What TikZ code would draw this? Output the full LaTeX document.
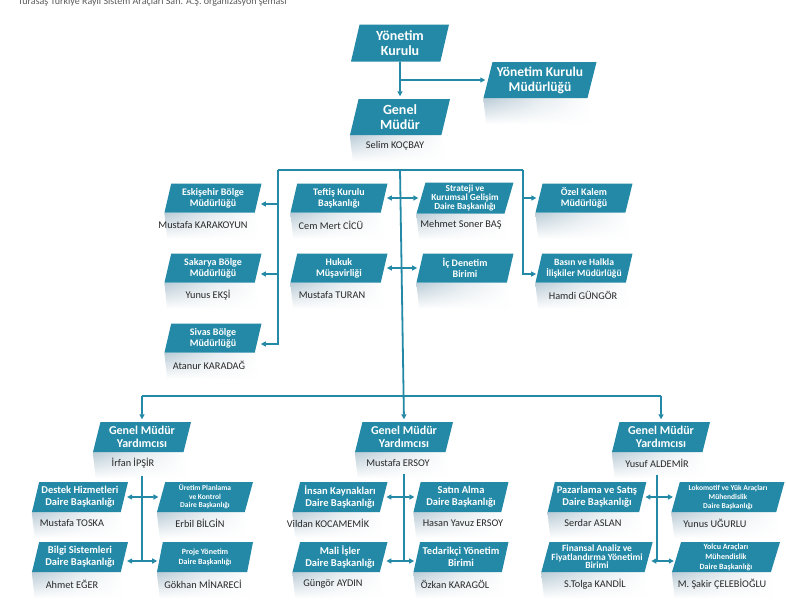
\documentclass[tikz,border=0pt]{standalone}
\usepackage{fontspec}
\setmainfont{Carlito}
\usetikzlibrary{shapes.geometric,arrows.meta,backgrounds,calc,fadings}
\definecolor{tl}{RGB}{35,137,166}
\definecolor{nmc}{RGB}{40,40,40}
\definecolor{shc}{RGB}{178,198,210}
\definecolor{capc}{RGB}{90,90,90}
\tikzfading[name=fadedown, top color=transparent!10, bottom color=transparent!100]
\newcommand\myfs[2]{\fontsize{#1}{#2}\selectfont}
\newcommand\shadowbelow[1]{\shade[left color=shc, right color=white, middle color=shc!40, path fading=fadedown] (#1.bottom left corner) -- (#1.bottom right corner) -- ($(#1.bottom right corner)+(3,26)$) -- ($(#1.bottom left corner)+(3,26)$) -- cycle;}
\begin{document}
\begin{tikzpicture}[x=1pt,y=-1pt,
  bx/.style={trapezium, trapezium left angle=72, trapezium right angle=108, trapezium stretches body,
    fill=tl, text=white, align=center, inner xsep=2pt, inner ysep=0.5pt, minimum height=30, minimum width=96},
  topb/.style={bx, font=\bfseries\myfs{14}{15.5}, minimum height=37},
  midb/.style={bx, font=\bfseries\myfs{10}{11}, minimum width=97, minimum height=29},
  gmyb/.style={bx, font=\bfseries\myfs{12}{13.5}, minimum width=98, minimum height=30},
  subb/.style={bx, font=\bfseries\myfs{10.5}{12}, minimum width=96, minimum height=30},
  nm/.style={font=\myfs{10.3}{11}, text=nmc, inner sep=0.5pt},
  ln/.style={draw=tl, line width=1.8pt},
  arr/.style={ln, -{Triangle[length=5pt,width=5pt]}, shorten >=2.5pt},
  darr/.style={ln, {Triangle[length=5pt,width=5pt]}-{Triangle[length=5pt,width=5pt]}, shorten >=2.5pt, shorten <=2.5pt}
]
\useasboundingbox (0,0) rectangle (786,606);
\clip (0,0) rectangle (786,606);

\node[anchor=base west, font=\myfs{10}{12}, text=capc, inner sep=0] (cap) at (18,4.5) {Turasaş Türkiye Raylı Sistem Araçları San. A.Ş. organizasyon şeması};

% top
\node[topb, minimum width=98] (yk) at (400,43) {Yönetim\\Kurulu};
\node[topb, font=\bfseries\myfs{13.5}{15}, minimum width=113, minimum height=36] (ykm) at (540,80) {Yönetim Kurulu\\Müdürlüğü};
\node[topb, minimum width=100, minimum height=36] (gm) at (400,117) {Genel\\Müdür};
\node[nm] (gmn) at (395,146) {Selim KOÇBAY};

% middle
\node[midb] (esk) at (213,198) {Eskişehir Bölge\\Müdürlüğü};
\node[midb] (tef) at (339,198) {Teftiş Kurulu\\Başkanlığı};
\node[midb, font=\bfseries\myfs{9.3}{9.3}, minimum height=31] (str) at (465,198) {Strateji ve\\Kurumsal Gelişim\\Daire Başkanlığı};
\node[midb] (ozk) at (584,198) {Özel Kalem\\Müdürlüğü};
\node[midb] (sak) at (213,268) {Sakarya Bölge\\Müdürlüğü};
\node[midb] (huk) at (339,268) {Hukuk\\Müşavirliği};
\node[midb] (icd) at (465,268) {İç Denetim\\Birimi};
\node[midb, font=\bfseries\myfs{9.6}{11}] (bas) at (584,268) {Basın ve Halkla\\İlişkiler Müdürlüğü};
\node[midb] (siv) at (213,338) {Sivas Bölge\\Müdürlüğü};

\node[nm] (eskn) at (203,225) {Mustafa KARAKOYUN};
\node[nm] (tefn) at (331,225) {Cem Mert CİCÜ};
\node[nm] (strn) at (461,225) {Mehmet Soner BAŞ};
\node[nm] (sakn) at (208,295) {Yunus EKŞİ};
\node[nm] (hukn) at (332,295) {Mustafa TURAN};
\node[nm] (basn) at (583,295) {Hamdi GÜNGÖR};
\node[nm] (sivn) at (209,365) {Atanur KARADAĞ};

% GMY
\node[gmyb] (gmy1) at (142,437) {Genel Müdür\\Yardımcısı};
\node[gmyb] (gmy2) at (404,437) {Genel Müdür\\Yardımcısı};
\node[gmyb] (gmy3) at (661,437) {Genel Müdür\\Yardımcısı};
\node[nm] (gmy1n) at (133,463) {İrfan İPŞİR};
\node[nm] (gmy2n) at (398,463) {Mustafa ERSOY};
\node[nm] (gmy3n) at (657,463) {Yusuf ALDEMİR};

% sub boxes
\node[subb] (des) at (80,497) {Destek Hizmetleri\\Daire Başkanlığı};
\node[subb, font=\bfseries\myfs{7.5}{8.5}] (ure) at (205,497) {Üretim Planlama\\ve Kontrol\\Daire Başkanlığı};
\node[subb] (bil) at (80,557) {Bilgi Sistemleri\\Daire Başkanlığı};
\node[subb, font=\bfseries\myfs{8}{10}] (pro) at (205,557) {Proje Yönetim\\Daire Başkanlığı};
\node[subb, minimum width=95] (ins) at (340,497) {İnsan Kaynakları\\Daire Başkanlığı};
\node[subb, minimum width=95] (sat) at (461,497) {Satın Alma\\Daire Başkanlığı};
\node[subb, minimum width=95] (mal) at (340,557) {Mali İşler\\Daire Başkanlığı};
\node[subb, minimum width=95] (ted) at (461,557) {Tedarikçi Yönetim\\Birimi};
\node[subb, minimum width=95] (paz) at (597,497) {Pazarlama ve Satış\\Daire Başkanlığı};
\node[subb, font=\bfseries\myfs{7.5}{9}, minimum width=113] (lok) at (728,497) {Lokomotif ve Yük Araçları\\Mühendislik\\Daire Başkanlığı};
\node[subb, font=\bfseries\myfs{9.5}{8.6}, minimum width=98] (fin) at (597,557) {Finansal Analiz ve\\Fiyatlandırma Yönetimi\\Birimi};
\node[subb, font=\bfseries\myfs{8}{10}, minimum width=108] (yol) at (726,557) {Yolcu Araçları\\Mühendislik\\Daire Başkanlığı};

\node[nm] (desn) at (72,523) {Mustafa TOSKA};
\node[nm] (uren) at (200,523) {Erbil BİLGİN};
\node[nm] (biln) at (72,584) {Ahmet EĞER};
\node[nm] (pron) at (203,584) {Gökhan MİNARECİ};
\node[nm] (insn) at (328,523) {Vildan KOCAMEMİK};
\node[nm] (satn) at (463,523) {Hasan Yavuz ERSOY};
\node[nm] (maln) at (333,584) {Güngör AYDIN};
\node[nm] (tedn) at (455,584) {Özkan KARAGÖL};
\node[nm] (pazn) at (593,523) {Serdar ASLAN};
\node[nm] (lokn) at (715,523) {Yunus UĞURLU};
\node[nm] (finn) at (595,584) {S.Tolga KANDİL};
\node[nm] (yoln) at (722,584) {M. Şakir ÇELEBİOĞLU};

% shadows
\begin{scope}[on background layer]
\fill[white] (0,0) rectangle (786,606);
\foreach \b in {ykm,gm,esk,tef,str,ozk,sak,huk,icd,bas,siv,gmy1,gmy2,gmy3,des,ure,bil,pro,ins,sat,mal,ted,paz,lok,fin,yol}{\shadowbelow{\b}}
\end{scope}

% top connectors
\draw[arr] (yk.south) -- (gm.north);
\coordinate (yj) at (yk.south |- ykm.west);
\draw[arr] (yj) -- (ykm.west);

% middle connectors
\coordinate (hl) at (278,170);
\coordinate (hr) at (523,170);
\draw[ln] (hl) -- (hr);
\coordinate (eskA) at ([yshift=-6pt]esk.east);
\coordinate (sakA) at ([yshift=-6pt]sak.east);
\coordinate (sivA) at ([yshift=-6pt]siv.east);
\draw[arr] (hl) |- (sivA);
\draw[arr] (hl |- eskA) -- (eskA);
\draw[arr] (hl |- sakA) -- (sakA);
\coordinate (basA) at ([yshift=-6pt]bas.west);
\draw[arr] (hr) |- (basA);
\draw[arr] (hr |- ozk.west) -- (ozk.west);
\draw[arr] (gm.south |- hl) -- (gmy2.north);
\draw[darr] (tef.east) -- (str.west);
\draw[darr] (huk.east) -- (icd.west);

% GMY connectors
\coordinate (hl2) at (142,396);
\coordinate (hr2) at (661,396);
\draw[ln] (hl2) -- (hr2);
\draw[arr] (hl2) -- (gmy1.north);
\draw[arr] (hr2) -- (gmy3.north);

% column connectors
\coordinate (bilA) at ([yshift=-4pt]bil.east);
\coordinate (proA) at ([yshift=-4pt]pro.west);
\coordinate (malA) at ([yshift=-4pt]mal.east);
\coordinate (tedA) at ([yshift=-4pt]ted.west);
\coordinate (finA) at ([yshift=-4pt]fin.east);
\coordinate (yolA) at ([yshift=-4pt]yol.west);
\draw[ln, shorten <=7pt] (gmy1.south |- gmy1n.south) -- (gmy1.south |- bilA);
\draw[ln, shorten <=7pt] (gmy2.south |- gmy2n.south) -- (gmy2.south |- malA);
\draw[ln, shorten <=7pt] ($(gmy3.south |- gmy3n.south)+(-4,0)$) -- ($(gmy3.south |- finA)+(-4,0)$);
\draw[darr] (des.east) -- (ure.west);
\draw[darr] (bilA) -- (proA);
\draw[darr] (ins.east) -- (sat.west);
\draw[darr] (malA) -- (tedA);
\draw[darr] (paz.east) -- (lok.west);
\draw[darr] (finA) -- (yolA);
\end{tikzpicture}
\end{document}
